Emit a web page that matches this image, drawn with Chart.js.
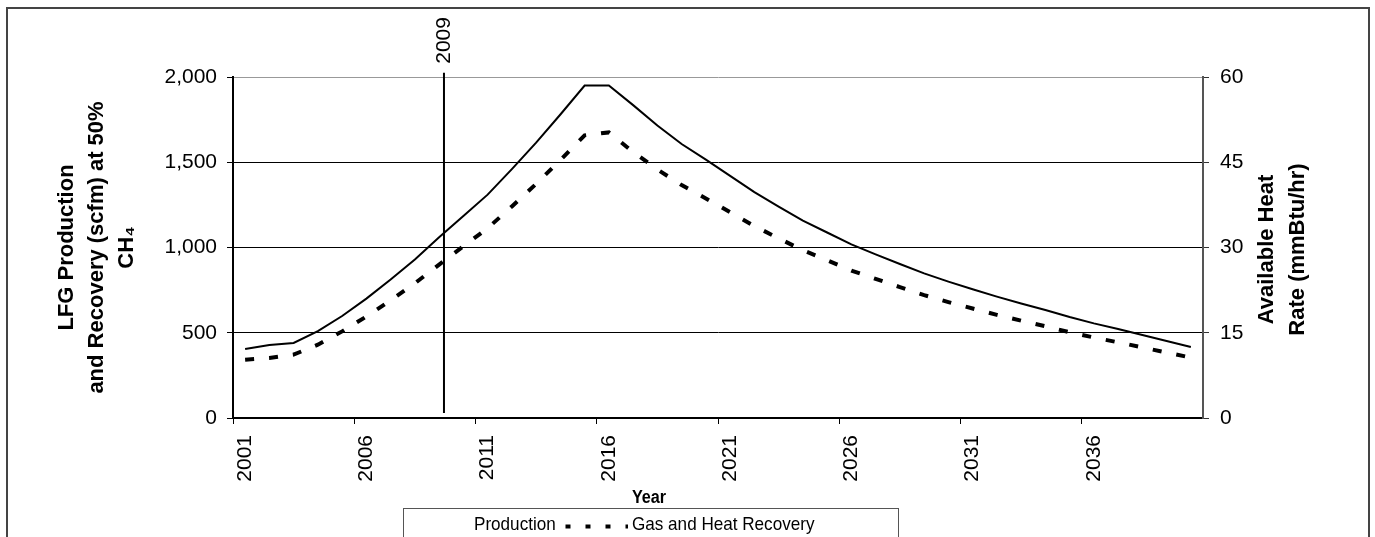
<!DOCTYPE html>
<html><head><meta charset="utf-8">
<script src="https://cdn.jsdelivr.net/npm/chart.js@4/dist/chart.umd.min.js"></script>
<style>html,body{margin:0;padding:0;background:#fff;overflow:hidden}canvas{display:block}</style>
</head><body>
<canvas id="c" width="1375" height="537"></canvas>
<script>
const years = [2001,2002,2003,2004,2005,2006,2007,2008,2009,2010,2011,2012,2013,2014,2015,2016,2017,2018,2019,2020,
               2021,2022,2023,2024,2025,2026,2027,2028,2029,2030,2031,2032,2033,2034,2035,2036,2037,2038,2039,2040];
const production = [405,428,440,510,598,700,812,930,1060,1185,1310,1460,1615,1780,1950,1950,1835,1715,1607,1515,
                    1420,1325,1240,1158,1088,1018,960,903,848,800,755,712,672,633,592,555,522,487,452,416];
const recovery = [342,352,372,430,508,595,690,790,900,1007,1113,1241,1373,1513,1658,1675,1560,1458,1366,1288,
                  1207,1126,1054,984,925,865,816,768,721,680,642,605,571,538,503,472,444,414,384,354];
const leftTicks = [0,500,1000,1500,2000];
const rightTicks = [0,15,30,45,60];
const seriesNames = ['Production','Gas and Heat Recovery'];
const leftTitle = ['LFG Production','and Recovery (scfm) at 50%','CH\u2084'];
const rightTitle = ['Available Heat','Rate (mmBtu/hr)'];
const xTitle = 'Year';
const markerYear = 2009;
const markerPosition = 2009.2;      // where the marker line sits on the year axis
const markerSpan = [30, 2025];      // vertical extent of the marker line, in left-axis units

const FAM = "'Liberation Sans', Arial, sans-serif";

function squeezedText(ctx, text, x, y, sx) {
  ctx.save(); ctx.translate(x, y); ctx.scale(sx, 1); ctx.fillText(text, 0, 0); ctx.restore();
}

const extras = {
  id: 'extras',
  afterDraw(chart) {
    const ctx = chart.ctx;
    const xs = chart.scales.x, ys = chart.scales.y;
    const area = chart.chartArea;
    ctx.save();
    // outer frame
    ctx.strokeStyle = '#444'; ctx.lineWidth = 2;
    ctx.beginPath(); ctx.moveTo(7, 600); ctx.lineTo(7, 8); ctx.lineTo(1369, 8); ctx.lineTo(1369, 600); ctx.stroke();

    // marker line
    const mx = xs.getPixelForValue(markerPosition - years[0]);
    const yTop = ys.getPixelForValue(markerSpan[1]);
    const yBot = ys.getPixelForValue(markerSpan[0]);
    ctx.strokeStyle = '#000'; ctx.lineWidth = 2;
    ctx.beginPath(); ctx.moveTo(mx, yTop); ctx.lineTo(mx, yBot); ctx.stroke();
    ctx.fillStyle = '#000';
    ctx.font = '21px ' + FAM;
    ctx.save(); ctx.translate(mx, yTop - 9); ctx.rotate(-Math.PI/2);
    ctx.textAlign = 'left'; ctx.textBaseline = 'middle';
    ctx.fillText(String(markerYear), 0, 0); ctx.restore();

    // right title
    ctx.font = 'bold 22px ' + FAM;
    const cy = (area.top + area.bottom) / 2 + 2;
    ctx.save(); ctx.translate(area.right + 64, cy); ctx.rotate(-Math.PI/2);
    ctx.textAlign = 'center'; ctx.textBaseline = 'middle';
    rightTitle.forEach((t, i) => ctx.fillText(t, 0, i * 31));
    ctx.restore();

    // x title
    ctx.font = 'bold 18px ' + FAM;
    ctx.textAlign = 'center'; ctx.textBaseline = 'middle';
    squeezedText(ctx, xTitle, 649, 498, 0.9);

    // legend
    ctx.strokeStyle = '#555'; ctx.lineWidth = 1;
    ctx.strokeRect(403.5, 508.5, 495, 60);
    ctx.font = '19px ' + FAM;
    ctx.textAlign = 'left'; ctx.textBaseline = 'middle';
    squeezedText(ctx, seriesNames[0], 474, 525, 0.9);
    ctx.strokeStyle = '#000'; ctx.lineWidth = 4; ctx.setLineDash([5, 15]);
    ctx.beginPath(); ctx.moveTo(565.5, 526.5); ctx.lineTo(628, 526.5); ctx.stroke();
    ctx.setLineDash([]);
    squeezedText(ctx, seriesNames[1], 632, 525, 0.9);
    ctx.restore();
  }
};

new Chart(document.getElementById('c'), {
  type: 'line',
  data: {
    labels: years.map(String),
    datasets: [
      { label: seriesNames[0], data: production, borderColor: '#000', borderWidth: 2, pointRadius: 0, tension: 0, fill: false, yAxisID: 'y' },
      { label: seriesNames[1], data: recovery, borderColor: '#000', borderWidth: 4, borderDash: [9, 15], borderCapStyle: 'butt', pointRadius: 0, tension: 0, fill: false, yAxisID: 'y' }
    ]
  },
  options: {
    responsive: false, animation: false, devicePixelRatio: 1,
    layout: { padding: { top: 77, left: 0, right: 0, bottom: 0 } },
    plugins: { legend: { display: false }, tooltip: { enabled: false } },
    scales: {
      x: {
        type: 'category', offset: true, position: 'bottom',
        grid: { offset: true, drawOnChartArea: false, drawTicks: true, tickLength: 6, tickWidth: 1,
                tickColor: c => (c.index % 5 === 0 ? '#000' : 'rgba(0,0,0,0)') },
        border: { display: true, color: '#000', width: 2 },
        ticks: { autoSkip: false, maxRotation: 90, minRotation: 90, padding: 11, color: '#000',
                 font: { size: 21, family: FAM },
                 callback: (v, i) => (i % 5 === 0 ? String(years[i]) : '') },
        afterFit: s => { s.height = 119; }
      },
      y: {
        position: 'left', min: leftTicks[0], max: leftTicks[leftTicks.length - 1],
        afterBuildTicks: s => { s.ticks = leftTicks.map(v => ({ value: v })); },
        grid: { color: c => (c.tick && c.tick.value === 2000 ? '#999' : '#000'), lineWidth: 1, tickLength: 6, tickColor: '#000' },
        border: { display: true, color: '#000', width: 2 },
        ticks: { padding: 10, color: '#000', font: { size: 21, family: FAM },
                 callback: v => Number(v).toLocaleString('en-US') },
        title: { display: true, text: leftTitle, color: '#000',
                 font: { size: 22, weight: 'bold', family: FAM, lineHeight: 1.36 },
                 padding: { top: 52, bottom: 0 } },
        afterFit: s => { s.width = 233; }
      },
      y2: {
        position: 'right', min: rightTicks[0], max: rightTicks[rightTicks.length - 1],
        afterBuildTicks: s => { s.ticks = rightTicks.map(v => ({ value: v })); },
        grid: { drawOnChartArea: false, tickLength: 6, tickColor: '#333' },
        border: { display: true, color: '#555', width: 2 },
        ticks: { padding: 11, color: '#000', font: { size: 21, family: FAM } },
        afterFit: s => { s.width = 172; }
      }
    }
  },
  plugins: [extras]
});
</script>
</body></html>
